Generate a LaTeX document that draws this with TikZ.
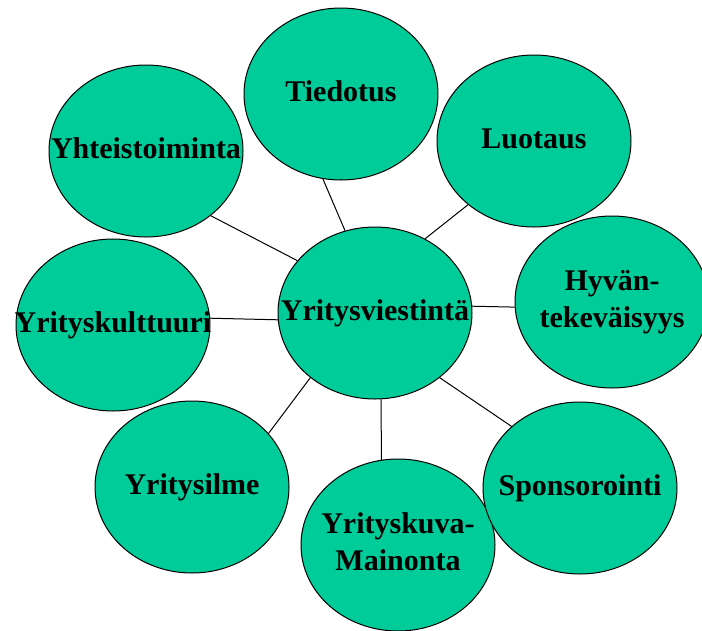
\documentclass[tikz,border=0pt]{standalone}
\usepackage{fontspec}
\setmainfont{Liberation Serif}
\usepackage{xcolor}
\usetikzlibrary{shapes.geometric}
\definecolor{bubblegreen}{RGB}{0,204,153}
\newcommand{\lbl}[1]{\makebox[0pt]{\begin{tabular}{@{}c@{}}#1\end{tabular}}}

\begin{document}
\begin{tikzpicture}[
    x=1pt, y=-1pt,
    bubble/.style={ellipse, draw=black, line width=1pt, fill=bubblegreen, inner sep=0pt, minimum width=194pt, minimum height=172pt, font=\bfseries\fontsize{30}{37}\selectfont},
    link/.style={line width=1pt, draw=black}
]
\useasboundingbox (0,0) rectangle (702,630);

\node[bubble] (viestinta) at (375,313) {\lbl{Yritysviestintä}};
\node[bubble] (tiedotus) at (341,94) {\lbl{Tiedotus}};
\node[bubble] (yhteis) at (146,151) {\lbl{Yhteistoiminta}};
\node[bubble] (luotaus) at (534,141) {\lbl{Luotaus}};
\node[bubble] (hyvan) at (612,302) {\lbl{Hyvän-\\tekeväisyys}};
\node[bubble] (kulttuuri) at (113,325) {\lbl{Yrityskulttuuri}};
\node[bubble] (ilme) at (192,487) {\lbl{Yritysilme}};
\node[bubble] (kuva) at (398,545) {\lbl{Yrityskuva-\\Mainonta}};
\node[bubble] (sponsor) at (580,488) {\lbl{Sponsorointi}};

\draw[link] (yhteis.315) -- (viestinta.146);
\draw[link] (tiedotus.258) -- (viestinta.110);
\draw[link] (luotaus.224) -- (viestinta.56);
\draw[link] (viestinta.4) -- (hyvan.183);
\draw[link] (kulttuuri.4) -- (viestinta.184);
\draw[link] (ilme.35) -- (viestinta.225);
\draw[link] (kuva.101) -- (viestinta.274);
\draw[link] (sponsor.138) -- (viestinta.315);
\end{tikzpicture}
\end{document}
